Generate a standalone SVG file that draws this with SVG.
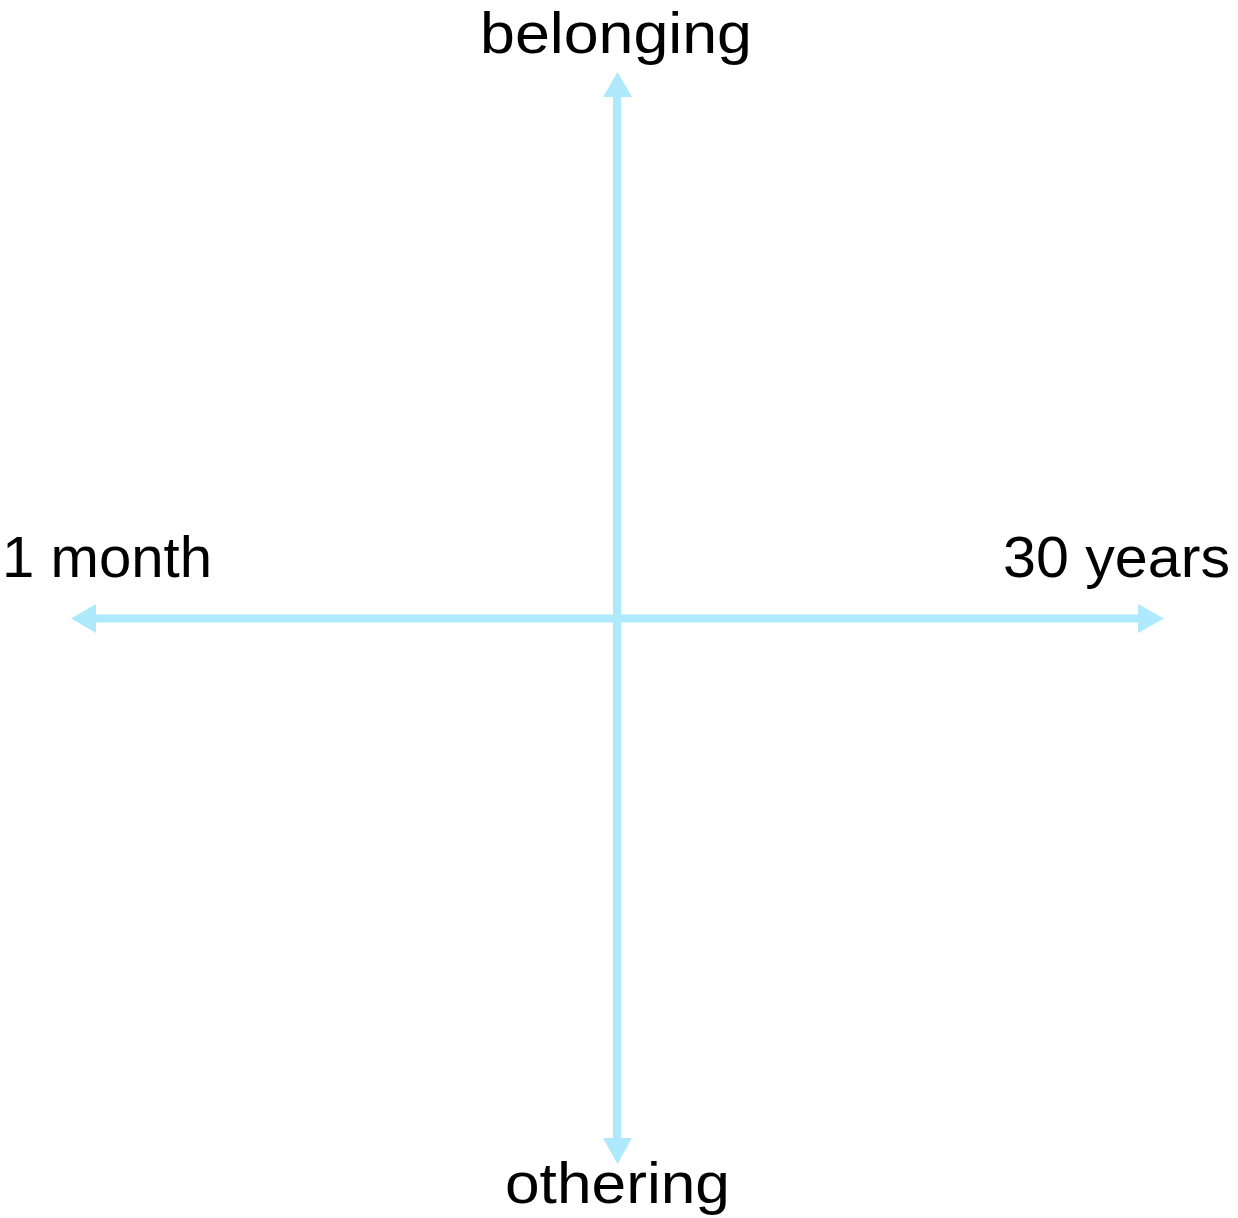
<svg xmlns="http://www.w3.org/2000/svg" width="1238" height="1218" viewBox="0 0 1238 1218">
<style>
.lbl{font-family:"Liberation Sans",Arial,sans-serif;font-size:57px;fill:#000}
.ax{stroke:#aee9fe;stroke-width:8;fill:none}
.hd{fill:#aee9fe}
</style>
<rect width="1238" height="1218" fill="#fff"/>
<g id="connectors">
<line class="ax" x1="617" y1="94" x2="617" y2="1141"/>
<polygon class="hd" points="617.5,72 603,97 632,97"/>
<polygon class="hd" points="617.5,1164 603,1138 632,1138"/>
<line class="ax" x1="94" y1="618.5" x2="1141" y2="618.5"/>
<polygon class="hd" points="71,618.5 96,604 96,633"/>
<polygon class="hd" points="1164,618.5 1138,604 1138,633"/>
</g>
<g id="belonging"><text class="lbl" x="480" y="53" textLength="272" lengthAdjust="spacingAndGlyphs">belonging</text></g>
<g id="othering"><text class="lbl" x="505" y="1203" textLength="225" lengthAdjust="spacingAndGlyphs">othering</text></g>
<g id="one-month"><text class="lbl" x="2" y="577" textLength="210" lengthAdjust="spacingAndGlyphs">1 month</text></g>
<g id="thirty-years"><text class="lbl" x="1003" y="577" textLength="227" lengthAdjust="spacingAndGlyphs">30 years</text></g>
</svg>
